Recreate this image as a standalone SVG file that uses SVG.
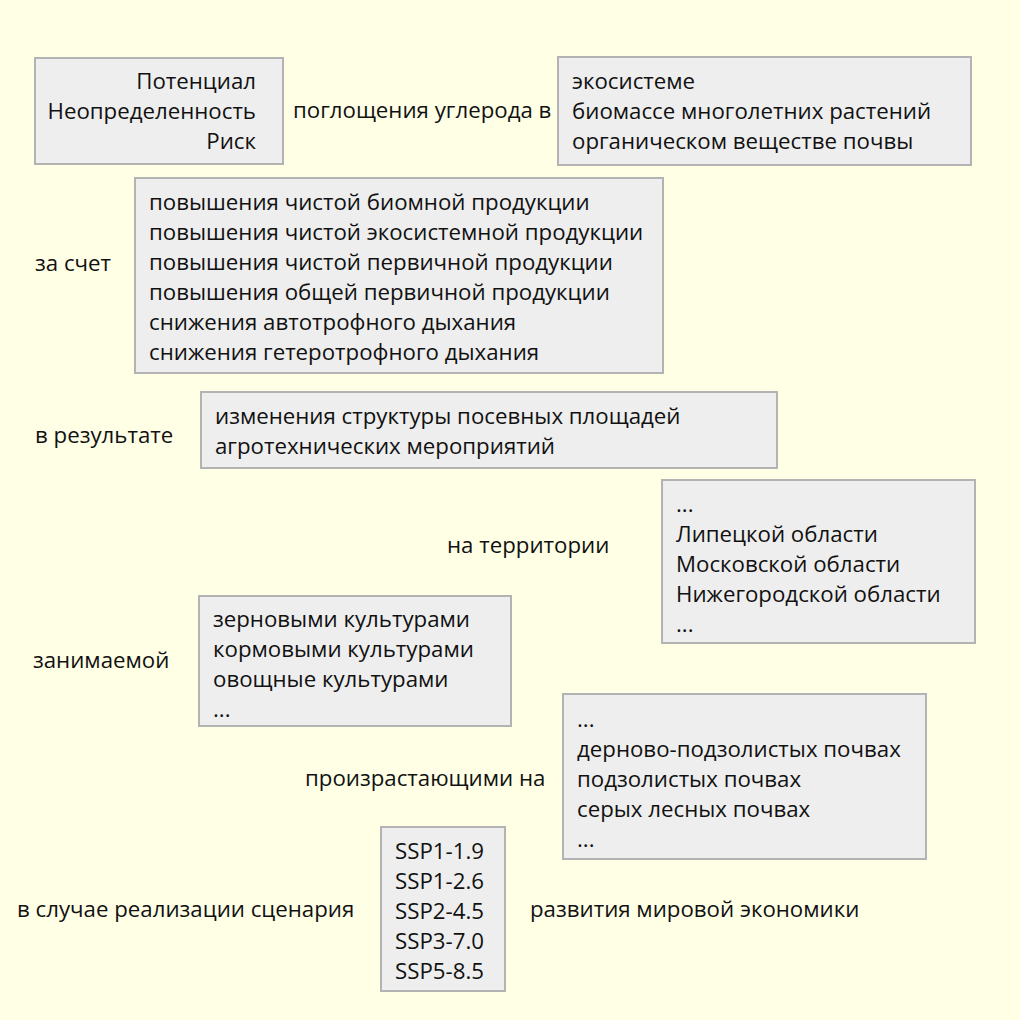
<svg xmlns="http://www.w3.org/2000/svg" width="1020" height="1020" viewBox="0 0 1020 1020">
<style>
.bg{fill:#FFFFE6}
.box{fill:#EEEEEE;stroke:#B3B3B3;stroke-width:2}
text{font-family:"Open Sans","Noto Sans","DejaVu Sans",sans-serif;font-size:22.25px;fill:#111111}
.r{text-anchor:end}
</style>
<rect class="bg" x="0" y="0" width="1020" height="1020"/>
<g id="n1"><rect class="box" x="35" y="58" width="248" height="106"/>
<text class="r" x="256" y="89">Потенциал</text><text class="r" x="256" y="119">Неопределенность</text><text class="r" x="256" y="149">Риск</text></g>
<g id="t1"><text x="293" y="118">поглощения углерода в</text></g>
<g id="n2"><rect class="box" x="558" y="57" width="413" height="108"/>
<text x="572" y="89">экосистеме</text><text x="572" y="119">биомассе многолетних растений</text><text x="572" y="149">органическом веществе почвы</text></g>
<g id="n3"><rect class="box" x="135" y="178" width="528" height="195"/>
<text x="149" y="210">повышения чистой биомной продукции</text>
<text x="149" y="240">повышения чистой экосистемной продукции</text>
<text x="149" y="270">повышения чистой первичной продукции</text>
<text x="149" y="300">повышения общей первичной продукции</text>
<text x="149" y="330">снижения автотрофного дыхания</text>
<text x="149" y="360">снижения гетеротрофного дыхания</text></g>
<g id="t2"><text x="35" y="271">за счет</text></g>
<g id="n4"><rect class="box" x="201" y="392" width="576" height="76"/>
<text x="215" y="424">изменения структуры посевных площадей</text>
<text x="215" y="454">агротехнических мероприятий</text></g>
<g id="t3"><text x="35" y="443">в результате</text></g>
<g id="n5"><rect class="box" x="662" y="480" width="313" height="163"/>
<text x="676" y="512">...</text><text x="676" y="542">Липецкой области</text><text x="676" y="572">Московской области</text><text x="676" y="602">Нижегородской области</text><text x="676" y="632">...</text></g>
<g id="t4"><text x="447" y="553">на территории</text></g>
<g id="n6"><rect class="box" x="199" y="596" width="312" height="130"/>
<text x="213" y="627">зерновыми культурами</text><text x="213" y="657">кормовыми культурами</text><text x="213" y="687">овощные культурами</text><text x="213" y="717">...</text></g>
<g id="t5"><text x="33" y="668">занимаемой</text></g>
<g id="n7"><rect class="box" x="563" y="694" width="363" height="165"/>
<text x="577" y="727">...</text><text x="577" y="757">дерново-подзолистых почвах</text><text x="577" y="787">подзолистых почвах</text><text x="577" y="817">серых лесных почвах</text><text x="577" y="847">...</text></g>
<g id="t6"><text x="305" y="786">произрастающими на</text></g>
<g id="n8"><rect class="box" x="381" y="827" width="124" height="164"/>
<text x="395" y="859">SSP1-1.9</text><text x="395" y="889">SSP1-2.6</text><text x="395" y="919">SSP2-4.5</text><text x="395" y="949">SSP3-7.0</text><text x="395" y="979">SSP5-8.5</text></g>
<g id="t7"><text x="17" y="917">в случае реализации сценария</text></g>
<g id="t8"><text x="530" y="917">развития мировой экономики</text></g>
<g id="connectors"></g>
</svg>
